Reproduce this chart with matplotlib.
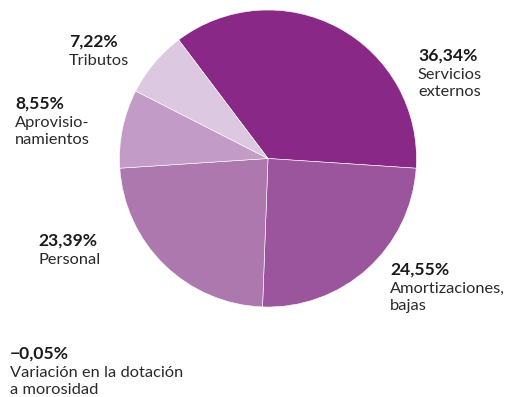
import matplotlib
matplotlib.use("Agg")
import matplotlib.pyplot as plt

# cost breakdown, share of total (%)
names = ["Servicios\nexternos", "Amortizaciones,\nbajas", "Personal",
         "Aprovisio-\nnamientos", "Tributos", "Variación en la dotación\na morosidad"]
shares = [36.34, 24.55, 23.39, 8.55, 7.22, -0.05]
colors = ["#8a2887", "#9b559d", "#ad78ae", "#c29cc6", "#dcc8e0", None]

# label anchors in pixels (left, top of the percentage line)
label_xy = [(418, 48), (390, 262), (38, 233), (15, 96), (69, 34), (10, 346)]

W, H = 508, 397
plt.rcParams['font.family'] = ['Lato', 'DejaVu Sans']

fig = plt.figure(figsize=(W / 100, H / 100), dpi=100)
fig.patch.set_facecolor("white")

# pie centred at (268, 158.5) px, radius 148.5 px
cx, cy, r = 268, 158.5, 148.5
ax = fig.add_axes([(cx - r) / W, 1 - (cy + r) / H, 2 * r / W, 2 * r / H])

pie_vals = [v for v in shares if v > 0]
pie_cols = [c for v, c in zip(shares, colors) if v > 0]
ax.pie(pie_vals, colors=pie_cols, startangle=127, counterclock=False,
       radius=1, wedgeprops=dict(edgecolor="white", linewidth=0.4))
ax.set_xlim(-1, 1)
ax.set_ylim(-1, 1)
ax.set_aspect("equal")
ax.axis("off")


def pct(v):
    s = f"{abs(v):.2f}%".replace(".", ",")
    return ("\u2212" + s) if v < 0 else s


for name, v, (x, y) in zip(names, shares, label_xy):
    fig.text(x / W, 1 - y / H, pct(v), ha="left", va="top",
             fontsize=12.6, fontweight="bold", color="#1a1a1a")
    fig.text(x / W, 1 - (y + 20) / H, name, ha="left", va="top",
             fontsize=11.8, color="#2a2a2a", linespacing=1.25)

fig.savefig("out.png", dpi=100)
